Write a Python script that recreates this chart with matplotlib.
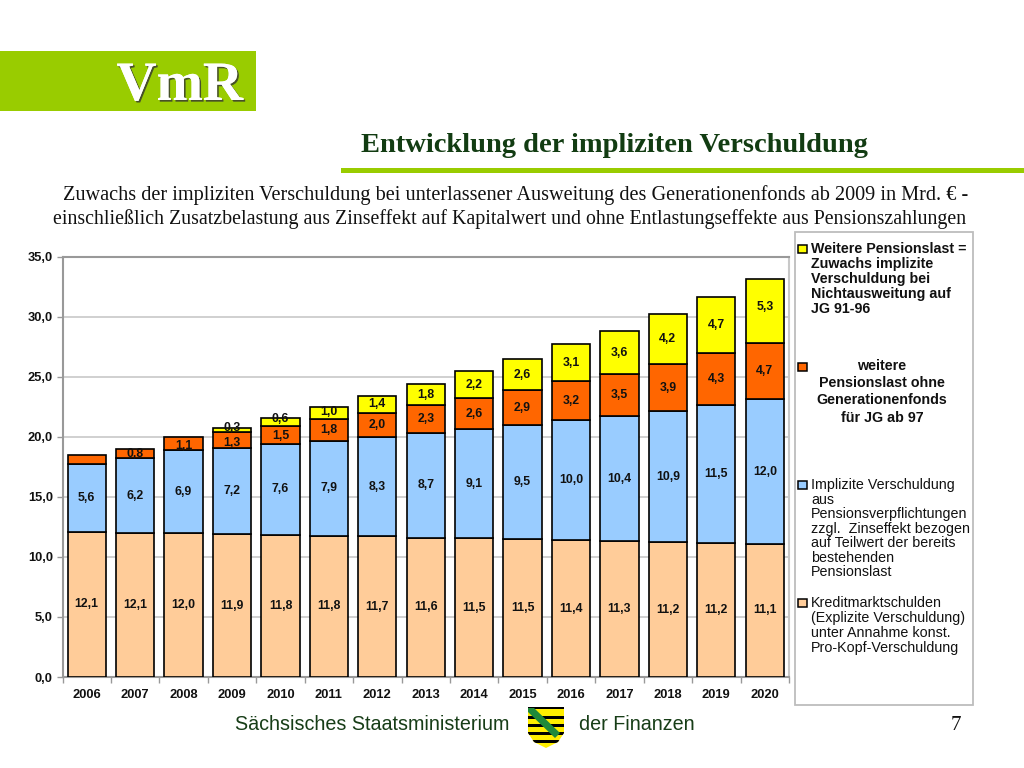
import matplotlib
matplotlib.use("Agg")
import matplotlib.pyplot as plt
import matplotlib.patheffects as pe
from matplotlib.patches import Rectangle, Polygon
import numpy as np

years = ["2006", "2007", "2008", "2009", "2010", "2011", "2012", "2013",
         "2014", "2015", "2016", "2017", "2018", "2019", "2020"]
kredit = [12.1, 12.0, 11.97, 11.9, 11.83, 11.77, 11.7, 11.6, 11.53, 11.47, 11.4, 11.3, 11.23, 11.17, 11.1]
implizit = [5.6, 6.2, 6.9, 7.2, 7.6, 7.9, 8.3, 8.7, 9.1, 9.5, 10.0, 10.4, 10.9, 11.5, 12.0]
pension = [0.8, 0.8, 1.1, 1.3, 1.5, 1.8, 2.0, 2.3, 2.6, 2.9, 3.2, 3.5, 3.9, 4.3, 4.7]
zuwachs = [0, 0, 0, 0.3, 0.6, 1.0, 1.4, 1.8, 2.2, 2.6, 3.1, 3.6, 4.2, 4.7, 5.3]
kredit_labels = ["12,1", "12,1", "12,0", "11,9", "11,8", "11,8", "11,7", "11,6",
                 "11,5", "11,5", "11,4", "11,3", "11,2", "11,2", "11,1"]

plt.rcParams["font.family"] = ["Liberation Sans", "DejaVu Sans"]
W, H = 1024, 768
fig = plt.figure(figsize=(W / 100, H / 100), dpi=100, facecolor="white")

# overlay in pixel coordinates for the slide furniture
bg = fig.add_axes([0, 0, 1, 1])
bg.set_xlim(0, W)
bg.set_ylim(H, 0)
bg.axis("off")

green = "#99CC00"
bg.add_patch(Rectangle((0, 51), 256, 60, color=green, lw=0))
bg.text(243, 86, "VmR", ha="right", va="center", family="Liberation Serif", weight="bold",
        fontsize=40, color="white",
        path_effects=[pe.withSimplePatchShadow(offset=(1.2, -1.2), shadow_rgbFace="#333333", alpha=0.8), pe.Normal()])
bg.text(614, 145, "Entwicklung der impliziten Verschuldung", ha="center", va="center",
        family="Liberation Serif", weight="bold", fontsize=20.5, color="#123c12")
bg.add_patch(Rectangle((341, 168), 683, 4.5, color=green, lw=0))
bg.text(515.5, 195, "Zuwachs der impliziten Verschuldung bei unterlassener Ausweitung des Generationenfonds ab 2009 in Mrd. € -",
        ha="center", va="center", family="Liberation Serif", fontsize=14.55, color="#111111")
bg.text(509.5, 219, "einschließlich Zusatzbelastung aus Zinseffekt auf Kapitalwert und ohne Entlastungseffekte aus Pensionszahlungen",
        ha="center", va="center", family="Liberation Serif", fontsize=14.35, color="#111111")

# chart
ax = fig.add_axes([62.5 / W, 1 - 677 / H, 726.5 / W, (677 - 256.5) / H])
x = np.arange(len(years))
colors = ["#FFCC99", "#99CCFF", "#FF6600", "#FFFF00"]
series = [kredit, implizit, pension, zuwachs]
# label shifts in pixels (up is positive) where the original labels sit off centre
nudges = {(2, 2): -2, (2, 3): -3, (2, 4): -1, (3, 3): 2, (3, 4): 3, (3, 5): 1, (3, 14): 4}
bottom = np.zeros(len(years))
for s, (vals, col) in enumerate(zip(series, colors)):
    vals = np.array(vals)
    ax.bar(x[vals > 0], vals[vals > 0], 0.79, bottom=bottom[vals > 0], color=col,
           edgecolor="black", linewidth=1.2, zorder=3)
    for i, v in enumerate(vals):
        if v <= 0 or (s == 2 and i == 0):
            continue
        label = kredit_labels[i] if s == 0 else f"{v:.1f}".replace(".", ",")
        ax.annotate(label, (i, bottom[i] + v / 2), xytext=(0, nudges.get((s, i), 0) * 0.72),
                    textcoords="offset points", ha="center", va="center", fontsize=8.8,
                    weight="bold", color="#111111", zorder=4)
    bottom += vals

ax.set_xlim(-0.5, 14.5)
ax.set_ylim(0, 35)
ax.set_yticks(np.arange(0, 36, 5))
ax.set_yticklabels([f"{t:.1f}".replace(".", ",") for t in np.arange(0, 36, 5)],
                   fontsize=9.3, weight="bold", color="#111111")
ax.set_xticks(x)
ax.set_xticklabels(years, fontsize=9.3, weight="bold", color="#111111")
ax.set_xticks(np.arange(-0.5, 15), minor=True)
ax.tick_params(axis="x", which="major", length=0, pad=8.5)
ax.tick_params(axis="x", which="minor", length=4, color="#999999", width=1)
ax.tick_params(axis="y", length=4, color="#999999", width=1, pad=3)
ax.grid(axis="y", color="#c8c8c8", linewidth=1.2, zorder=0)
ax.set_axisbelow(True)
for sp in ax.spines.values():
    sp.set_color("#999999")
    sp.set_linewidth(1.5)
ax.spines["right"].set_color("#c8c8c8")

# legend box
leg = fig.add_axes([0, 0, 1, 1], facecolor="none")
leg.set_xlim(0, W)
leg.set_ylim(H, 0)
leg.axis("off")
leg.add_patch(Rectangle((795, 232), 178, 473, fc="white", ec="#bdbdbd", lw=1.3))
legend_fs = 10.3
entries = [
    (249, colors[3], 811, 242, "left", "Weitere Pensionslast =\nZuwachs implizite\nVerschuldung bei\nNichtausweitung auf\nJG 91-96", "bold", 1.08),
    (367, colors[2], 882, 359, "center", "weitere\nPensionslast ohne\nGenerationenfonds\nfür JG ab 97", "bold", 1.29),
    (485, colors[1], 811, 478, "left", "Implizite Verschuldung\naus\nPensionsverpflichtungen\nzzgl.  Zinseffekt bezogen\nauf Teilwert der bereits\nbestehenden\nPensionslast", "normal", 1.05),
    (603, colors[0], 811, 596, "left", "Kreditmarktschulden\n(Explizite Verschuldung)\nunter Annahme konst.\nPro-Kopf-Verschuldung", "normal", 1.08),
]
for sy, col, tx, ty, ha, txt, wt, ls in entries:
    leg.add_patch(Rectangle((798, sy - 4), 9, 8, fc=col, ec="black", lw=1.1))
    leg.text(tx, ty, txt, ha=ha, va="top", multialignment=ha, fontsize=legend_fs,
             weight=wt, linespacing=ls, color="#111111")

# footer
foot = "#173d17"
leg.text(372, 725, "Sächsisches Staatsministerium", ha="center", va="center", fontsize=14.2, color=foot)
leg.text(637, 725, "der Finanzen", ha="center", va="center", fontsize=14.2, color=foot)
leg.text(956, 725, "7", ha="center", va="center", family="Liberation Serif", fontsize=15, color="#111111")

# coat of arms
shield = Polygon([(528, 707), (564, 707), (564, 733), (558, 742), (546, 748), (534, 742), (528, 733)],
                 closed=True, fc="#FFEE00", ec="none")
leg.add_patch(shield)
for y0, y1 in [(707, 709), (716, 719), (724, 727), (732, 735), (740, 743)]:
    st = Rectangle((528, y0), 36, y1 - y0, fc="black", ec="none")
    leg.add_patch(st)
    st.set_clip_path(shield)
leg.add_patch(Polygon([(528, 712), (528, 708), (534, 708), (560, 733), (555, 738)], closed=True,
                      fc="#1f8a3a", ec="none"))

fig.savefig("out.png", dpi=100)
